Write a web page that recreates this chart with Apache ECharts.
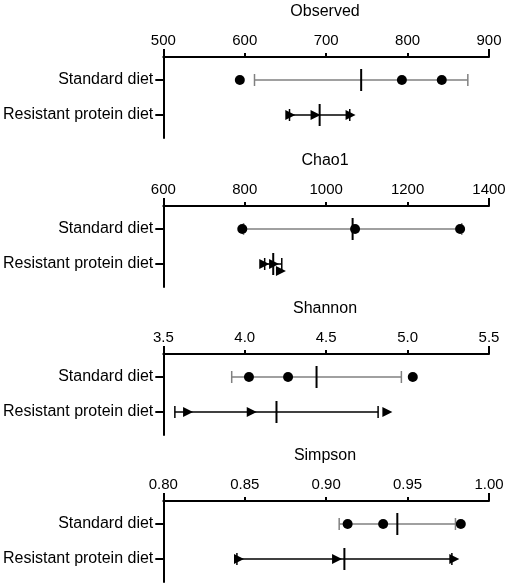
<!DOCTYPE html>
<html>
<head>
    <meta charset="utf-8">
    <title>Alpha diversity</title>
    <script src="https://cdn.jsdelivr.net/npm/echarts@6.0.0/dist/echarts.min.js"></script>
    <style type="text/css">
        html,body{margin:0;padding:0;background:#fff;}
        #main{width:510px;height:588px;}
    </style>
</head>
<body>
    <div id="main"></div>
    <script type="text/javascript">
        // groups (rows, top to bottom)
        var groups = ['Standard diet', 'Resistant protein diet'];
        var panelTitles = ['Observed', 'Chao1', 'Shannon', 'Simpson'];

        // x axis scales of each panel
        var axisMin = [500, 600, 3.5, 0.80];
        var axisMax = [900, 1400, 5.5, 1.00];
        var axisStep = [100, 200, 0.5, 0.05];
        var axisDigits = [0, 0, 1, 2];

        // individual points
        var obsStandard = [594, 793, 842];
        var obsResistant = [656, 687, 730];
        var chaoStandard = [794, 1071, 1329];
        var chaoResistant = [848, 872, 889];
        var shanStandard = [4.026, 4.266, 5.032];
        var shanResistant = [3.652, 4.043, 4.876];
        var simpStandard = [0.9132, 0.935, 0.9827];
        var simpResistant = [0.8465, 0.9067, 0.9787];

        // mean and SD per panel: [standard, resistant]
        var meanValues = [[743, 692], [1065, 870], [4.441, 4.195], [0.9437, 0.9112]];
        var sdValues = [[131, 37], [268, 21], [0.521, 0.624], [0.0357, 0.066]];

        // the overlapping Chao1 point is drawn a bit lower (px), like the original
        var chaoNudge = [0, 0, 7];

        var standardPts = [obsStandard, chaoStandard, shanStandard, simpStandard];
        var resistantPts = [obsResistant, chaoResistant, shanResistant, simpResistant];

        var gridTops = [57, 206, 354, 501];
        var gridH = 81;
        var font = 'Liberation Sans, Arial, sans-serif';

        var myChart = echarts.init(document.getElementById('main'));

        // mean line + SD whiskers
        function errorBar(params, api) {
            var mean = api.value(0), row = api.value(1), sd = api.value(2);
            var lo = api.coord([mean - sd, row]);
            var hi = api.coord([mean + sd, row]);
            var mid = api.coord([mean, row]);
            var col = row === 0 ? '#808080' : '#000';
            return {
                type: 'group',
                children: [
                    {type: 'line', shape: {x1: lo[0], y1: lo[1], x2: hi[0], y2: hi[1]}, style: {stroke: col, lineWidth: 1.5}},
                    {type: 'line', shape: {x1: lo[0], y1: lo[1] - 6, x2: lo[0], y2: lo[1] + 6}, style: {stroke: col, lineWidth: 1.5}},
                    {type: 'line', shape: {x1: hi[0], y1: hi[1] - 6, x2: hi[0], y2: hi[1] + 6}, style: {stroke: col, lineWidth: 1.5}},
                    {type: 'line', shape: {x1: mid[0], y1: mid[1] - 11, x2: mid[0], y2: mid[1] + 11}, style: {stroke: '#000', lineWidth: 2}}
                ]
            };
        }

        var option = {
            backgroundColor: '#fff',
            animation: false,
            title: [], grid: [], xAxis: [], yAxis: [], series: []
        };

        for (var i = 0; i < 4; i++) {
            var digits = axisDigits[i];
            option.title.push({
                text: panelTitles[i],
                left: 325, top: gridTops[i] - 53, textAlign: 'center', padding: 0,
                textStyle: {fontFamily: font, fontSize: 16, fontWeight: 'normal', color: '#000'}
            });
            option.grid.push({left: 161, right: 21, top: gridTops[i], height: gridH});
            // main top axis
            option.xAxis.push({
                type: 'value', gridIndex: i, position: 'top',
                min: axisMin[i], max: axisMax[i], interval: axisStep[i],
                axisLine: {onZero: false, lineStyle: {color: '#000', width: 2}},
                axisTick: {length: 4, lineStyle: {color: '#000', width: 2}},
                axisLabel: {
                    margin: 9, color: '#000', fontFamily: font, fontSize: 15,
                    formatter: (function (d) { return function (v) { return v.toFixed(d); }; })(digits)
                },
                splitLine: {show: false}
            });
            // longer ticks at both ends
            option.xAxis.push({
                type: 'value', gridIndex: i, position: 'top', offset: 0,
                min: axisMin[i], max: axisMax[i],
                axisLine: {show: false, onZero: false},
                axisTick: {length: 8, customValues: [axisMin[i], axisMax[i]], lineStyle: {color: '#000', width: 2}},
                axisLabel: {show: false},
                splitLine: {show: false}
            });
            option.yAxis.push({
                type: 'value', gridIndex: i, inverse: true,
                min: -0.657, max: 1.657,
                axisLine: {show: true, onZero: false, lineStyle: {color: '#000', width: 2}},
                axisTick: {show: true, length: 8, customValues: [0, 1], lineStyle: {color: '#000', width: 2}},
                axisLabel: {
                    show: true, margin: 10, customValues: [0, 1],
                    color: '#000', fontFamily: font, fontSize: 16,
                    formatter: function (v) { return groups[Math.round(v)]; }
                },
                splitLine: {show: false}
            });

            option.series.push({
                type: 'custom', xAxisIndex: 2 * i, yAxisIndex: i,
                renderItem: errorBar, z: 2,
                data: [[meanValues[i][0], 0, sdValues[i][0]], [meanValues[i][1], 1, sdValues[i][1]]]
            });
            option.series.push({
                type: 'scatter', xAxisIndex: 2 * i, yAxisIndex: i, z: 3,
                symbol: 'circle', symbolSize: 10,
                itemStyle: {color: '#000', opacity: 1},
                data: standardPts[i].map(function (v) { return [v, 0]; })
            });
            option.series.push({
                type: 'scatter', xAxisIndex: 2 * i, yAxisIndex: i, z: 3,
                symbol: 'triangle', symbolSize: [10, 10], symbolRotate: -90,
                itemStyle: {color: '#000', opacity: 1},
                data: resistantPts[i].map(function (v, k) {
                    if (i === 1 && chaoNudge[k]) return {value: [v, 1], symbolOffset: [0, chaoNudge[k]]};
                    return [v, 1];
                })
            });
        }

        myChart.setOption(option);
    </script>
</body>
</html>
